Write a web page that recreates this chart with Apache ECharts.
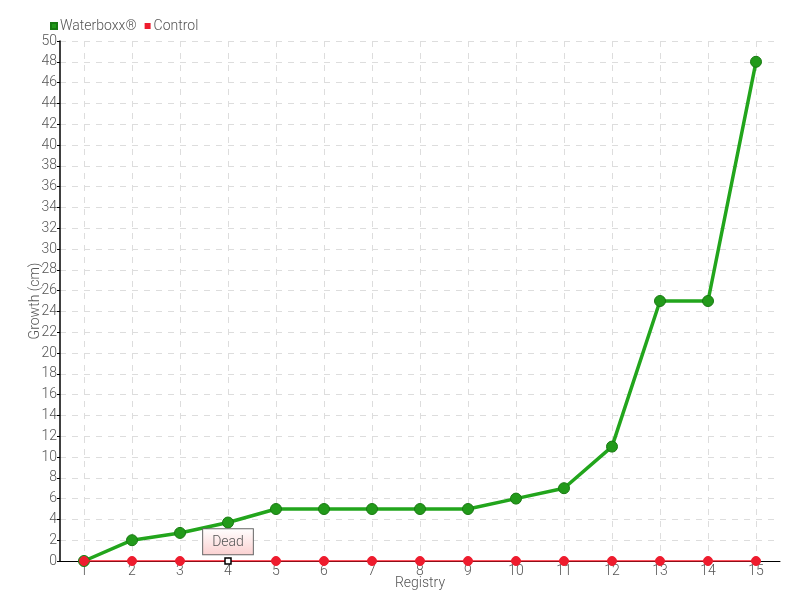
<!DOCTYPE html>
<html><head><meta charset="utf-8">
<script src="https://cdn.jsdelivr.net/npm/echarts@6/dist/echarts.min.js"></script>
<style>html,body{margin:0;padding:0;background:#fff}#c{width:800px;height:600px}</style>
</head><body><div id="c"></div>
<script>
const categories = ['1','2','3','4','5','6','7','8','9','10','11','12','13','14','15'];
const waterboxx = [0, 2, 2.7, 3.7, 5, 5, 5, 5, 5, 6, 7, 11, 25, 25, 48];
const control = [0, 0, 0, 0, 0, 0, 0, 0, 0, 0, 0, 0, 0, 0, 0];
const deadIndex = 3;
const deadLabel = 'Dead';

const FONT = 'Roboto, sans-serif';
const FW = 300;
const chart = echarts.init(document.getElementById('c'));
const controlData = control.map((v, i) => i === deadIndex ? {
  value: v,
  symbol: 'rect',
  symbolSize: 6,
  itemStyle: {color: '#fff', borderColor: '#000', borderWidth: 1.5},
  label: {
    show: true, formatter: deadLabel, position: 'top', distance: 3,
    color: '#555', fontFamily: FONT, fontWeight: FW, fontSize: 14,
    backgroundColor: {type: 'linear', x: 0, y: 0, x2: 0, y2: 1,
      colorStops: [{offset: 0, color: '#ffffff'}, {offset: 1, color: '#fbd0d0'}]},
    borderColor: '#666', borderWidth: 1, padding: [6, 9, 5, 9]
  }
} : v);

chart.setOption({
  animation: false,
  textStyle: {fontFamily: FONT, fontWeight: FW},
  legend: {
    left: 45, top: 14, itemWidth: 6, itemHeight: 6, itemGap: 8,
    icon: 'rect',
    textStyle: {color: '#555', fontSize: 14, fontFamily: FONT, fontWeight: FW, padding: [0, 0, 0, -2]},
    data: ['Waterboxx®', 'Control']
  },
  grid: {left: 60, right: 20, top: 41, bottom: 39},
  xAxis: {
    type: 'category', data: categories, boundaryGap: true,
    name: 'Registry', nameLocation: 'middle', nameGap: 15, nameMoveOverlap: false,
    nameTextStyle: {color: '#555', fontSize: 14, fontFamily: FONT, fontWeight: FW},
    axisLine: {lineStyle: {color: '#000', width: 1}},
    axisTick: {show: false},
    axisLabel: {color: '#555', fontSize: 14, fontFamily: FONT, fontWeight: FW, margin: 3},
    splitLine: {show: true, alignWithLabel: true, lineStyle: {color: '#ddd', type: [6, 6]}}
  },
  yAxis: {
    type: 'value', min: 0, max: 50, interval: 2,
    name: 'Growth (cm)', nameLocation: 'middle', nameGap: 18, nameMoveOverlap: false,
    nameTextStyle: {color: '#555', fontSize: 14, fontFamily: FONT, fontWeight: FW},
    axisLine: {show: true, lineStyle: {color: '#000', width: 1.5}},
    axisTick: {show: true, length: 3, lineStyle: {color: '#000'}},
    axisLabel: {color: '#555', fontSize: 14, fontFamily: FONT, fontWeight: FW, margin: 3},
    splitLine: {show: true, lineStyle: {color: '#ddd', type: [6, 6]}}
  },
  series: [
    {
      name: 'Waterboxx®', type: 'line', data: waterboxx,
      symbol: 'circle', symbolSize: 11, z: 3,
      lineStyle: {color: '#22a51c', width: 3.5},
      itemStyle: {color: '#229a1a', borderColor: '#187a12', borderWidth: 1}
    },
    {
      name: 'Control', type: 'line', data: controlData,
      symbol: 'circle', symbolSize: 9, z: 4,
      lineStyle: {color: '#ff1a2a', width: 1.5},
      itemStyle: {color: '#ee1c2e', borderColor: '#ee1c2e'}
    }
  ]
});
</script></body></html>
